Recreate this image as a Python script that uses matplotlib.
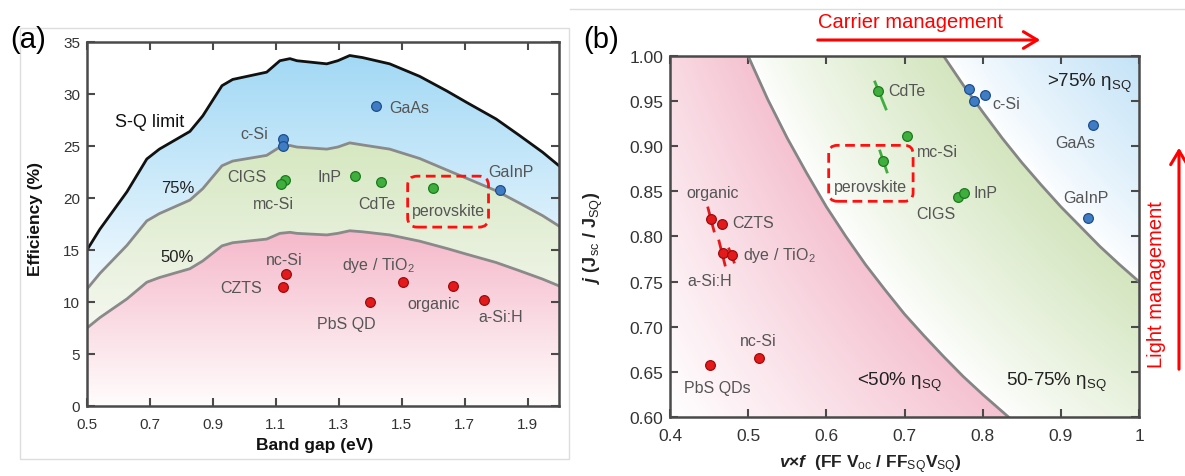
import numpy as np
import matplotlib
matplotlib.use("Agg")
import matplotlib.pyplot as plt
from matplotlib.patches import FancyBboxPatch, Rectangle, FancyArrowPatch
from matplotlib.lines import Line2D

REG = 'Liberation Sans'
plt.rcParams['font.family'] = [REG, 'DejaVu Sans']
plt.rcParams['mathtext.fontset'] = 'custom'
plt.rcParams['mathtext.rm'] = REG
plt.rcParams['mathtext.it'] = REG + ':italic:bold'
plt.rcParams['mathtext.bf'] = REG + ':bold'

# ---------------- Panel (a) data ----------------
gap = [0.50, 0.541, 0.627, 0.69, 0.73, 0.827, 0.868, 0.929, 0.963, 1.071, 1.113, 1.145,
       1.167, 1.262, 1.297, 1.335, 1.376, 1.462, 1.557, 1.643, 1.706, 1.80, 1.875, 1.948, 2.0]
sq_limit = [15.0, 17.0, 20.6, 23.75, 24.7, 26.4, 27.9, 30.8, 31.4, 32.1, 33.2, 33.4,
            33.2, 32.9, 33.2, 33.7, 33.5, 32.9, 31.7, 30.3, 29.2, 27.6, 26.0, 24.4, 23.1]
sq75 = [11.25, 12.75, 15.45, 17.8, 18.5, 19.8, 20.9, 23.1, 23.55, 24.1, 24.9, 25.05,
        24.9, 24.7, 24.9, 25.3, 25.1, 24.7, 23.8, 22.7, 21.9, 20.7, 19.5, 18.3, 17.3]
sq50 = [7.5, 8.5, 10.3, 11.9, 12.35, 13.2, 13.95, 15.4, 15.7, 16.05, 16.6, 16.7,
        16.6, 16.45, 16.6, 16.85, 16.75, 16.45, 15.85, 15.15, 14.6, 13.8, 13.0, 12.2, 11.55]

a_blue_names = ['c-Si', 'c-Si', 'GaAs', 'GaInP']
a_blue_gap = [1.122, 1.122, 1.42, 1.811]
a_blue_eff = [25.7, 25.0, 28.8, 20.8]
a_green_names = ['CIGS', 'mc-Si', 'InP', 'CdTe', 'perovskite']
a_green_gap = [1.13, 1.118, 1.351, 1.433, 1.60]
a_green_eff = [21.7, 21.3, 22.1, 21.5, 21.0]
a_red_names = ['nc-Si', 'CZTS', 'dye / TiO$_2$', 'PbS QD', 'organic', 'a-Si:H']
a_red_gap = [1.132, 1.122, 1.503, 1.40, 1.662, 1.763]
a_red_eff = [12.7, 11.4, 11.9, 10.0, 11.5, 10.2]

# label positions (x, y, ha)
a_labels = [
    ('c-Si', 1.075, 26.2, 'right'), ('GaAs', 1.459, 28.7, 'left'), ('GaInP', 1.846, 22.5, 'center'),
    ('CIGS', 1.071, 22.1, 'right'), ('mc-Si', 1.094, 19.5, 'center'), ('InP', 1.31, 22.1, 'right'),
    ('CdTe', 1.42, 19.5, 'center'), ('perovskite', 1.649, 18.8, 'center'),
    ('nc-Si', 1.126, 14.1, 'center'), ('CZTS', 1.056, 11.4, 'right'),
    ('dye / TiO$_2$', 1.427, 13.6, 'center'), ('PbS QD', 1.323, 7.9, 'center'),
    ('organic', 1.60, 9.9, 'center'), ('a-Si:H', 1.815, 8.6, 'center'),
]
a_gap_ticks = [0.5, 0.7, 0.9, 1.1, 1.3, 1.5, 1.7, 1.9]
a_eff_ticks = [0, 5, 10, 15, 20, 25, 30, 35]

# ---------------- Panel (b) data ----------------
b_blue_names = ['c-Si', 'c-Si', 'c-Si', 'GaAs', 'GaInP']
b_blue_vf = [0.7825, 0.789, 0.803, 0.941, 0.935]
b_blue_j = [0.963, 0.950, 0.957, 0.924, 0.820]
b_green_names = ['CdTe', 'mc-Si', 'perovskite', 'CIGS', 'InP']
b_green_vf = [0.666, 0.703, 0.672, 0.768, 0.776]
b_green_j = [0.961, 0.911, 0.884, 0.844, 0.848]
b_red_names = ['organic', 'CZTS', 'a-Si:H', 'dye / TiO2', 'PbS QDs', 'nc-Si']
b_red_vf = [0.4525, 0.4665, 0.468, 0.479, 0.451, 0.514]
b_red_j = [0.819, 0.814, 0.782, 0.779, 0.658, 0.665]

# sensitivity segments (x0, j0, x1, j1)
b_red_seg = [(0.4486, 0.8316, 0.4563, 0.8061), (0.4627, 0.795, 0.4704, 0.7684),
             (0.4755, 0.7862, 0.4819, 0.7717)]
b_green_seg = [(0.6622, 0.9712, 0.6763, 0.9413), (0.6686, 0.8947, 0.6776, 0.8715)]

line50_vf = [0.50, 0.525, 0.55, 0.575, 0.60, 0.625, 0.65, 0.675, 0.70, 0.725, 0.75, 0.775, 0.80, 0.833]
line50_j = [1.000, 0.952, 0.909, 0.870, 0.833, 0.800, 0.769, 0.741, 0.714, 0.690, 0.667, 0.645, 0.625, 0.600]
line75_vf = [0.75, 0.775, 0.80, 0.825, 0.85, 0.875, 0.90, 0.925, 0.95, 0.975, 1.0]
line75_j = [1.000, 0.968, 0.938, 0.909, 0.882, 0.857, 0.833, 0.811, 0.789, 0.769, 0.750]
b_levels = [0.5, 0.75]

b_labels = [
    ('organic', 0.454, 0.849, 'center'), ('CZTS', 0.479, 0.815, 'left'),
    ('dye / TiO$_2$', 0.4935, 0.780, 'left'), ('a-Si:H', 0.422, 0.751, 'left'),
    ('nc-Si', 0.5126, 0.685, 'center'), ('PbS QDs', 0.460, 0.633, 'center'),
    ('CdTe', 0.679, 0.962, 'left'), ('mc-Si', 0.716, 0.894, 'left'),
    ('perovskite', 0.657, 0.855, 'center'), ('InP', 0.788, 0.849, 'left'),
    ('CIGS', 0.740, 0.825, 'center'), ('c-Si', 0.812, 0.947, 'left'),
    ('GaAs', 0.919, 0.904, 'center'), ('GaInP', 0.932, 0.843, 'center'),
]
b_vf_ticks = [0.4, 0.5, 0.6, 0.7, 0.8, 0.9, 1.0]
b_vf_ticklabels = ['0.4', '0.5', '0.6', '0.7', '0.8', '0.9', '1']
b_j_ticks = [0.60, 0.65, 0.70, 0.75, 0.80, 0.85, 0.90, 0.95, 1.00]

# ---------------- styles ----------------
BLUE = ('#3f7cc4', '#1d4f8c')
GREEN = ('#3fae3f', '#1d7a1d')
RED = ('#e3191c', '#9c0d0d')
LBL = '#555555'
SPINE = '#4a4a4a'
LFS = 11.5

fig = plt.figure(figsize=(11.85, 4.77), dpi=100)

# frames
fig.add_artist(Rectangle((20 / 1185, 1 - 460 / 477), 549 / 1185, 431 / 477, transform=fig.transFigure,
                         fill=False, ec='#dddddd', lw=1))
fig.add_artist(Line2D([570 / 1185, 1], [1 - 10 / 477, 1 - 10 / 477], transform=fig.transFigure,
                      color='#dddddd', lw=1))

# ====== Panel (a) ======
axa = fig.add_axes([87 / 1185, 1 - 407 / 477, 472 / 1185, 364 / 477])
axa.set_xlim(0.5, 2.0)
axa.set_ylim(0, 35)


def vgrad(ax, top_c, bot_c, y_top, y_bot, clip):
    ys = np.linspace(35, 0, 400)
    t = np.clip((ys - y_bot) / (y_top - y_bot), 0, 1)[:, None]
    top = np.array(top_c)[None, :]
    bot = np.array(bot_c)[None, :]
    img = (bot + (top - bot) * t)[:, None, :]
    im = ax.imshow(img, extent=[0.5, 2.0, 0, 35], aspect='auto', origin='upper',
                   interpolation='bilinear', zorder=0)
    im.set_clip_path(clip, transform=ax.transData)


g = np.array(gap)
pb = axa.fill_between(g, sq75, sq_limit, color='none', lw=0)
pg = axa.fill_between(g, sq50, sq75, color='none', lw=0)
pp = axa.fill_between(g, 0, sq50, color='none', lw=0)
vgrad(axa, (0.64, 0.85, 0.96), (0.95, 0.98, 1.0), 33.5, 11, pb.get_paths()[0])
vgrad(axa, (0.84, 0.91, 0.76), (0.96, 0.97, 0.94), 25, 7.5, pg.get_paths()[0])
vgrad(axa, (0.96, 0.72, 0.79), (1.0, 0.99, 0.99), 17, 0, pp.get_paths()[0])

axa.plot(gap, sq_limit, color='#111111', lw=2.0, zorder=3)
axa.plot(gap, sq75, color='#8a8a8a', lw=2.0, zorder=3)
axa.plot(gap, sq50, color='#8a8a8a', lw=2.0, zorder=3)

for xs, ys, (fc, ec) in ((a_blue_gap, a_blue_eff, BLUE), (a_green_gap, a_green_eff, GREEN),
                         (a_red_gap, a_red_eff, RED)):
    axa.plot(xs, ys, 'o', ms=7, mfc=fc, mec=ec, mew=0.9, ls='none', zorder=5)

for s, x, y, ha in a_labels:
    axa.text(x, y, s, ha=ha, va='center', fontsize=LFS, color=LBL, zorder=6)
axa.text(0.589, 27.4, 'S-Q limit', ha='left', va='center', fontsize=13, color='#111111', zorder=6)
axa.text(0.789, 21.0, '75%', ha='center', va='center', fontsize=12, color='#222222', zorder=6)
axa.text(0.786, 14.4, '50%', ha='center', va='center', fontsize=12, color='#222222', zorder=6)

axa.add_patch(FancyBboxPatch((1.519, 17.2), 1.776 - 1.519, 22.1 - 17.2,
                             boxstyle='round,pad=0,rounding_size=0.03', mutation_aspect=30,
                             fill=False, ec='#ff1010', lw=2.0, ls=(0, (3.5, 2)), zorder=6))

axa.set_xticks(a_gap_ticks)
axa.set_xticklabels([f'{t:.1f}' for t in a_gap_ticks])
axa.set_yticks(a_eff_ticks)
axa.tick_params(direction='in', top=True, right=True, length=6, width=1.5, color=SPINE,
                labelsize=11, labelcolor='#333333', pad=5)
axa.tick_params(axis='x', labeltop=False, pad=8)
axa.tick_params(axis='y', labelright=False)
for sp in axa.spines.values():
    sp.set_color(SPINE)
    sp.set_linewidth(1.8)
    sp.set_zorder(7)
axa.set_xlabel('Band gap (eV)', fontsize=12.5, fontweight='bold', color='#111111')
axa.xaxis.set_label_coords((315 - 87) / 472, -(438 - 407) / 364)
axa.set_ylabel('Efficiency (%)', fontsize=12.5, fontweight='bold', color='#111111')
axa.yaxis.set_label_coords(-(87 - 43) / 472, 0.5 + (226 - 220) / 364)
fig.text(28 / 1185, 1 - 40 / 477, '(a)', fontsize=21, family=REG, ha='center', va='center')

# ====== Panel (b) ======
axb = fig.add_axes([670 / 1185, 1 - 418 / 477, 469 / 1185, 361 / 477])
axb.set_xlim(0.4, 1.0)
axb.set_ylim(0.6, 1.0)

xx = np.linspace(0.4, 1.0, 600)
jj = np.linspace(1.0, 0.6, 400)
X, J = np.meshgrid(xx, jj)
E = X * J
white = np.array([1.0, 1.0, 1.0])
pink = np.array([0.96, 0.76, 0.82])
green = np.array([0.83, 0.90, 0.75])
blue = np.array([0.77, 0.89, 0.97])
m1 = E < b_levels[0]
t1 = np.clip((E - 0.24) / (b_levels[0] - 0.24), 0, 1)[..., None]
c1 = white + (pink - white) * t1
m2 = (E >= b_levels[0]) & (E < b_levels[1])
t2 = np.clip((E - b_levels[0]) / (b_levels[1] - b_levels[0]), 0, 1)[..., None] ** 0.8
c2 = white + (green - white) * t2
t3 = np.clip((E - b_levels[1]) / 0.25, 0, 1)[..., None] ** 0.8
c3 = white + (blue - white) * t3
img = np.where(m1[..., None], c1, np.where(m2[..., None], c2, c3))
axb.imshow(img, extent=[0.4, 1.0, 0.6, 1.0], aspect='auto', origin='upper',
           interpolation='bilinear', zorder=0)

axb.plot(line50_vf, line50_j, color='#858585', lw=2.0, zorder=3)
axb.plot(line75_vf, line75_j, color='#858585', lw=2.0, zorder=3)

for segs, col in ((b_red_seg, '#e3191c'), (b_green_seg, '#3fae3f')):
    for x0, j0, x1, j1 in segs:
        axb.plot([x0, x1], [j0, j1], color=col, lw=2.0, zorder=4)

for xs, ys, (fc, ec) in ((b_blue_vf, b_blue_j, BLUE), (b_green_vf, b_green_j, GREEN),
                         (b_red_vf, b_red_j, RED)):
    axb.plot(xs, ys, 'o', ms=7, mfc=fc, mec=ec, mew=0.9, ls='none', zorder=5)

for s, x, y, ha in b_labels:
    axb.text(x, y, s, ha=ha, va='center', fontsize=LFS, color=LBL, zorder=6)
axb.text(0.99, 0.971, '>75% η$_{\\rm SQ}$', ha='right', va='center', fontsize=13.5,
         color='#222222', zorder=6)
axb.text(0.693, 0.639, '<50% η$_{\\rm SQ}$', ha='center', va='center', fontsize=13.5,
         color='#222222', zorder=6)
axb.text(0.894, 0.639, '50-75% η$_{\\rm SQ}$', ha='center', va='center', fontsize=13.5,
         color='#222222', zorder=6)

axb.add_patch(FancyBboxPatch((0.603, 0.839), 0.711 - 0.603, 0.901 - 0.839,
                             boxstyle='round,pad=0,rounding_size=0.011', mutation_aspect=0.87,
                             fill=False, ec='#ff1010', lw=2.0, ls=(0, (3.5, 2)), zorder=6))

axb.set_xticks(b_vf_ticks)
axb.set_xticklabels(b_vf_ticklabels)
axb.set_yticks(b_j_ticks)
axb.set_yticklabels([f'{t:.2f}' for t in b_j_ticks])
axb.tick_params(direction='in', top=True, right=True, length=6, width=1.5, color=SPINE,
                labelsize=12.5, labelcolor='#333333', pad=5)
axb.tick_params(axis='x', labeltop=False, pad=8)
axb.tick_params(axis='y', labelright=False)
for sp in axb.spines.values():
    sp.set_color(SPINE)
    sp.set_linewidth(1.8)
    sp.set_zorder(7)
axb.set_xlabel('$v$×$f$  (FF V$_{\\rm oc}$ / FF$_{\\rm SQ}$V$_{\\rm SQ}$)', fontsize=12.5,
               fontweight='bold', color='#222222')
axb.xaxis.set_label_coords((870 - 670) / 469, -(453 - 418) / 361)
axb.set_ylabel('$j$ (J$_{\\rm sc}$ / J$_{\\rm SQ}$)', fontsize=13, fontweight='bold', color='#222222')
axb.yaxis.set_label_coords(-(670 - 605) / 469, 0.5 + (237 - 237) / 361)
fig.text(601 / 1185, 1 - 40 / 477, '(b)', fontsize=21, family=REG, ha='center', va='center')

# management arrows
fig.text(911 / 1185, 1 - 22 / 477, 'Carrier management', color='#ff0000', fontsize=14.5,
         ha='center', va='center')
fig.add_artist(FancyArrowPatch(
    (815 / 1185, 1 - 41 / 477), (1043 / 1185, 1 - 41 / 477), transform=fig.transFigure,
    arrowstyle='->,head_length=10,head_width=6', color='#ff0000', lw=2.2,
    mutation_scale=1))
fig.text(1157 / 1185, 1 - 285 / 477, 'Light management', color='#ff0000', fontsize=14.5,
         ha='center', va='center', rotation=90)
fig.add_artist(FancyArrowPatch(
    (1179 / 1185, 1 - 373 / 477), (1179 / 1185, 1 - 146 / 477), transform=fig.transFigure,
    arrowstyle='->,head_length=10,head_width=6', color='#ff0000', lw=2.2,
    mutation_scale=1))

fig.savefig('out.png', dpi=100)
